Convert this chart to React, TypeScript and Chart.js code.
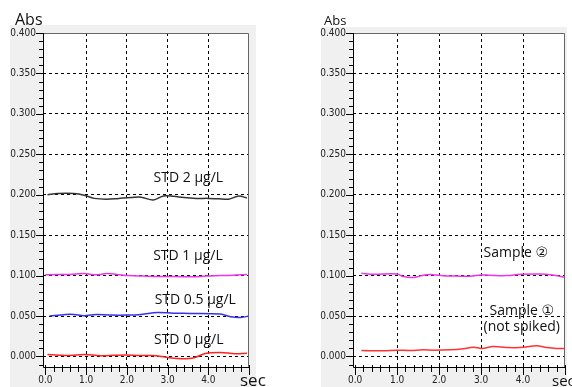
import React, { useEffect, useRef } from "react";
import { Chart, registerables } from "chart.js";

Chart.register(...registerables);

// ---------- data ----------
const xTickLabels = ["0.0", "1.0", "2.0", "3.0", "4.0"];
const yTickLabels = ["0.000", "0.050", "0.100", "0.150", "0.200", "0.250", "0.300", "0.350", "0.400"];

// Left panel – standards
const std2X = [0.05, 0.3, 0.7, 0.95, 1.2, 1.5, 1.8, 2.1, 2.35, 2.65, 2.9, 3.15, 3.4, 3.7, 4.0, 4.25, 4.5, 4.75, 4.95];
const std2Y = [0.2, 0.2015, 0.2015, 0.1995, 0.1955, 0.1945, 0.1955, 0.1965, 0.197, 0.1935, 0.1985, 0.198, 0.1965, 0.1955, 0.1955, 0.195, 0.1945, 0.1985, 0.196];

const std1X = [0.0, 0.3, 0.6, 0.95, 1.25, 1.5, 1.75, 2.05, 2.4, 2.8, 3.2, 3.6, 3.95, 4.3, 4.6, 4.95];
const std1Y = [0.101, 0.1015, 0.1015, 0.1025, 0.101, 0.1025, 0.1015, 0.1, 0.0995, 0.099, 0.099, 0.0985, 0.0995, 0.1, 0.1005, 0.1015];

const std05X = [0.1, 0.5, 0.7, 0.95, 1.25, 1.6, 2.0, 2.35, 2.75, 3.15, 3.55, 4.3, 4.55, 4.8, 5.0];
const std05Y = [0.05, 0.052, 0.052, 0.0505, 0.052, 0.0512, 0.0512, 0.052, 0.0545, 0.0535, 0.0533, 0.0525, 0.0492, 0.0483, 0.05];

const std0X = [0.05, 0.35, 0.6, 0.95, 1.35, 1.7, 2.0, 2.3, 2.6, 2.85, 3.1, 3.35, 3.65, 3.95, 4.3, 4.65, 4.95];
const std0Y = [0.0025, 0.0015, 0.0012, 0.0025, 0.001, 0.0015, 0.0018, 0.0012, 0.0012, 0.0, -0.002, -0.0028, -0.0015, 0.004, 0.005, 0.0035, 0.004];

// Right panel – samples
const sample2X = [0.15, 0.45, 1.0, 1.15, 1.4, 1.65, 1.85, 2.1, 2.4, 2.75, 3.0, 3.2, 3.6, 3.95, 4.4, 4.7, 5.0];
const sample2Y = [0.1029, 0.1017, 0.1021, 0.0988, 0.0978, 0.1008, 0.1012, 0.0998, 0.0995, 0.0992, 0.1008, 0.1004, 0.1, 0.1016, 0.1021, 0.1008, 0.098];

const sample1X = [0.15, 0.67, 0.99, 1.31, 1.63, 1.86, 2.26, 2.58, 2.82, 3.02, 3.29, 3.61, 3.93, 4.33, 4.56, 4.8, 5.0];
const sample1Y = [0.0074, 0.007, 0.0078, 0.0074, 0.0082, 0.0078, 0.0082, 0.0095, 0.0115, 0.0099, 0.0123, 0.0111, 0.0111, 0.0132, 0.0111, 0.0099, 0.0099];

// Annotations (text, x, y in data units)
const leftNotes = ["STD 2 µg/L", "STD 1 µg/L", "STD 0.5 µg/L", "STD 0 µg/L"];
const leftNotesX = [3.51, 3.5, 3.68, 3.52];
const leftNotesY = [0.2155, 0.119, 0.0644, 0.0149];

const rightNotes = ["Sample ②", "Sample ①", "(not spiked)"];
const rightNotesX = [3.83, 3.97, 3.97];
const rightNotesY = [0.1235, 0.0519, 0.032];

const yAxisTitle = "Abs";
const xAxisTitle = "sec";

// ---------- helpers ----------
const pts = (xs: number[], ys: number[]) => xs.map((x, i) => ({ x, y: ys[i] }));
const isMult = (v: number, s: number) => Math.abs(v / s - Math.round(v / s)) < 1e-6;

const yTickValues: number[] = [-0.01];
for (let i = 0; i <= 40; i++) yTickValues.push(Math.round(i) / 100);
const xTickValues: number[] = [];
for (let i = 0; i <= 25; i++) xTickValues.push(Math.round(i * 2) / 10);

const TICK_FONT = "'Liberation Sans Narrow', 'Arial Narrow', 'DejaVu Sans Condensed', sans-serif";
const TEXT_FONT = "'Open Sans', 'DejaVu Sans', sans-serif";

type PanelProps = {
  left: number;
  width: number;
  xMin: number;
  padLeft: number;
  padRight: number;
  panel: [number, number, number, number];
  absSize: number;
  absX: number;
  secSize: number;
  secX: number;
  datasets: { data: { x: number; y: number }[]; color: string }[];
  notes: string[];
  notesX: number[];
  notesY: number[];
};

function Panel(p: PanelProps) {
  const ref = useRef<HTMLCanvasElement | null>(null);
  useEffect(() => {
    const canvas = ref.current;
    if (!canvas) return;
    const deco = {
      id: "deco",
      beforeDraw(chart: any) {
        const { ctx, chartArea: a } = chart;
        ctx.save();
        ctx.fillStyle = "#f0f0f0";
        ctx.fillRect(p.panel[0], p.panel[1], p.panel[2], p.panel[3]);
        ctx.fillStyle = "#ffffff";
        ctx.fillRect(a.left, a.top, a.right - a.left, a.bottom - a.top);
        ctx.restore();
      },
      afterDraw(chart: any) {
        const { ctx, chartArea: a } = chart;
        const xs = chart.scales.x;
        const ys = chart.scales.y;
        ctx.save();
        // border top/right
        ctx.strokeStyle = "#666";
        ctx.lineWidth = 1;
        ctx.beginPath();
        ctx.moveTo(a.left, a.top + 0.5);
        ctx.lineTo(a.right - 0.5, a.top + 0.5);
        ctx.lineTo(a.right - 0.5, a.bottom);
        ctx.stroke();
        // axes
        ctx.strokeStyle = "#000";
        ctx.beginPath();
        ctx.moveTo(a.left + 0.5, a.top);
        ctx.lineTo(a.left + 0.5, a.bottom + 0.5);
        ctx.lineTo(a.right, a.bottom + 0.5);
        ctx.stroke();
        // y ticks
        ctx.beginPath();
        for (const v of yTickValues) {
          const py = Math.round(ys.getPixelForValue(v)) + 0.5;
          if (py < a.top - 1 || py > a.bottom + 1) continue;
          const len = isMult(v, 0.05) ? 7 : 4;
          ctx.moveTo(a.left - len, py);
          ctx.lineTo(a.left, py);
        }
        // x ticks
        for (const v of xTickValues) {
          const px = Math.round(xs.getPixelForValue(v)) + 0.5;
          const len = isMult(v, 1) ? 8 : 5;
          ctx.moveTo(px, a.bottom - 2);
          ctx.lineTo(px, a.bottom + len);
        }
        ctx.stroke();
        // titles
        ctx.fillStyle = "#111";
        ctx.textBaseline = "alphabetic";
        ctx.textAlign = "left";
        ctx.font = `${p.absSize}px ${TEXT_FONT}`;
        ctx.fillText(yAxisTitle, p.absX, 25);
        ctx.font = `${p.secSize}px ${TEXT_FONT}`;
        ctx.fillText(xAxisTitle, p.secX, 386);
        // notes
        ctx.font = `14px ${TEXT_FONT}`;
        ctx.textAlign = "center";
        p.notes.forEach((t, i) => {
          ctx.fillText(t, xs.getPixelForValue(p.notesX[i]), ys.getPixelForValue(p.notesY[i]));
        });
        ctx.restore();
      },
    };
    const chart = new Chart(canvas, {
      type: "line",
      data: {
        datasets: p.datasets.map((d) => ({
          data: d.data,
          borderColor: d.color,
          borderWidth: 1.5,
          pointRadius: 0,
          tension: 0.35,
          fill: false,
        })),
      },
      options: {
        responsive: false,
        animation: false,
        devicePixelRatio: 1,
        layout: { autoPadding: false, padding: { left: p.padLeft, right: p.padRight, top: 33, bottom: 0 } },
        plugins: { legend: { display: false }, tooltip: { enabled: false } },
        scales: {
          x: {
            type: "linear",
            min: p.xMin,
            max: 5.0,
            afterBuildTicks: (axis: any) => {
              axis.ticks = xTickValues.map((v) => ({ value: v }));
            },
            afterFit: (s: any) => {
              s.height = 20;
            },
            grid: {
              drawTicks: false,
              lineWidth: 1,
              color: (c: any) => {
                const v = c.tick ? c.tick.value : NaN;
                return isMult(v, 1) && v > 0.5 && v < 4.5 ? "#000" : "rgba(0,0,0,0)";
              },
            },
            border: { display: false, dash: [3, 3] },
            ticks: {
              autoSkip: false,
              maxRotation: 0,
              padding: 7,
              color: "#222",
              font: { family: TICK_FONT, size: 10 },
              callback: (v: any) => {
                const n = Number(v);
                if (isMult(n, 1) && n < 4.5) return xTickLabels[Math.round(n)];
                return "";
              },
            },
          },
          y: {
            type: "linear",
            min: -0.013,
            max: 0.4,
            afterBuildTicks: (axis: any) => {
              axis.ticks = yTickValues.map((v) => ({ value: v }));
            },
            afterFit: (s: any) => {
              s.width = 43;
            },
            grid: {
              drawTicks: false,
              lineWidth: 1,
              color: (c: any) => {
                const v = c.tick ? c.tick.value : NaN;
                return isMult(v, 0.05) && v > -0.001 && v < 0.39 ? "#000" : "rgba(0,0,0,0)";
              },
            },
            border: { display: false, dash: [3, 3] },
            ticks: {
              autoSkip: false,
              padding: 7,
              color: "#222",
              font: { family: TICK_FONT, size: 10 },
              callback: (v: any) => {
                const n = Number(v);
                if (isMult(n, 0.05) && n > -0.001) return yTickLabels[Math.round(n / 0.05)];
                return "";
              },
            },
          },
        },
      },
      plugins: [deco],
    } as any);
    return () => chart.destroy();
  }, []);
  return (
    <canvas
      ref={ref}
      width={p.width}
      height={387}
      style={{ position: "absolute", left: p.left, top: 0, width: p.width, height: 387 }}
    />
  );
}

export default function App() {
  return (
    <div style={{ position: "absolute", left: 0, top: 0, width: 572, height: 387, background: "#fff", overflow: "hidden" }}>
      <Panel
        left={0}
        width={286}
        xMin={-0.06}
        padLeft={0}
        padRight={37}
        panel={[10, 25, 246, 362]}
        absSize={16}
        absX={15}
        secSize={17}
        secX={240}
        datasets={[
          { data: pts(std2X, std2Y), color: "#333333" },
          { data: pts(std1X, std1Y), color: "#ee33ee" },
          { data: pts(std05X, std05Y), color: "#3333ee" },
          { data: pts(std0X, std0Y), color: "#ff2222" },
        ]}
        notes={leftNotes}
        notesX={leftNotesX}
        notesY={leftNotesY}
      />
      <Panel
        left={286}
        width={286}
        xMin={-0.05}
        padLeft={24}
        padRight={6}
        panel={[35, 27, 246, 360]}
        absSize={13}
        absX={38}
        secSize={15}
        secX={266}
        datasets={[
          { data: pts(sample2X, sample2Y), color: "#ee33ee" },
          { data: pts(sample1X, sample1Y), color: "#ff3333" },
        ]}
        notes={rightNotes}
        notesX={rightNotesX}
        notesY={rightNotesY}
      />
    </div>
  );
}
